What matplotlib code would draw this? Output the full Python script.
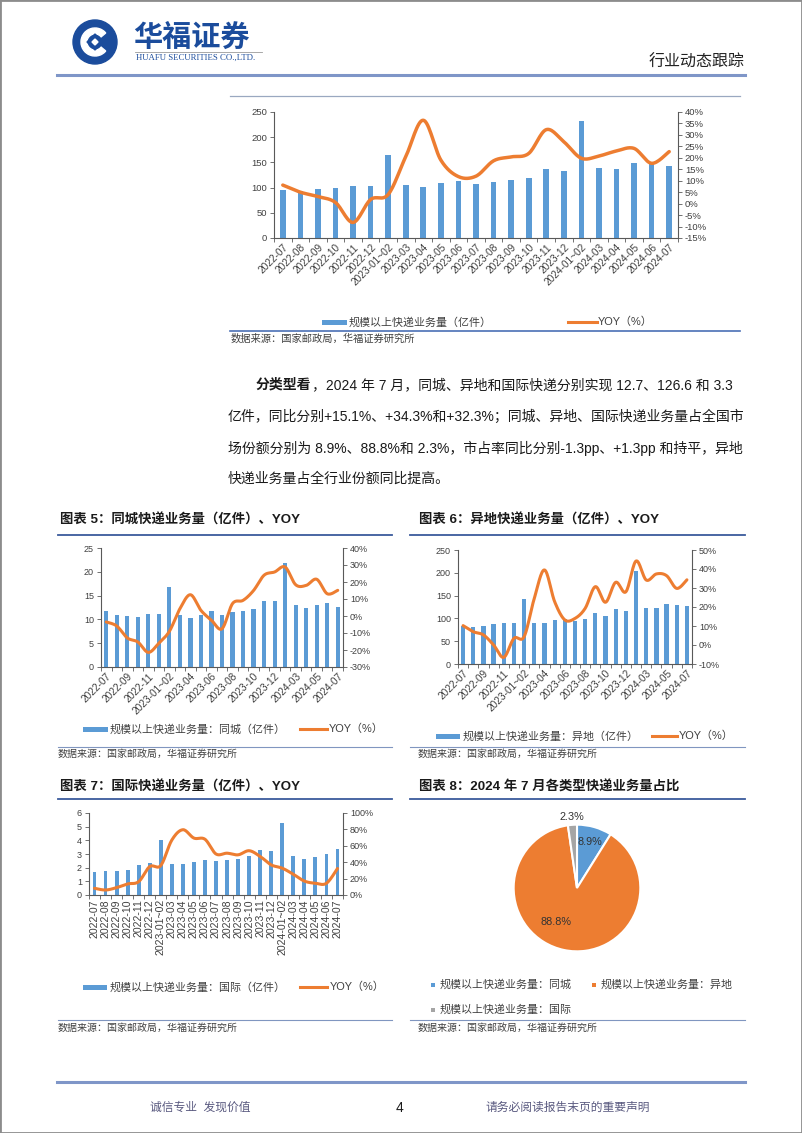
import numpy as np
import matplotlib

matplotlib.use("Agg")
import matplotlib.pyplot as plt
from matplotlib.lines import Line2D
from matplotlib.patches import Rectangle, Circle, Wedge, Polygon

plt.rcParams["font.family"] = ["Liberation Sans", "Noto Sans CJK SC", "DejaVu Sans"]

# ---- data -----------------------------------------------------------------
MONTHS = [
    "2022-07", "2022-08", "2022-09", "2022-10", "2022-11", "2022-12", "2023-01~02",
    "2023-03", "2023-04", "2023-05", "2023-06", "2023-07", "2023-08", "2023-09",
    "2023-10", "2023-11", "2023-12", "2024-01~02", "2024-03", "2024-04", "2024-05",
    "2024-06", "2024-07",
]
TOTAL_VOL = [96, 94, 97, 99, 103, 104, 164, 105, 102, 110, 114, 108, 111, 116,
             120, 136, 132, 233, 139, 137, 148, 146, 143]
TOTAL_YOY = [8.1, 5.0, 3.1, 0.5, -8.2, 1.8, 4.0, 20.5, 36.4, 19.0, 11.8, 12.0, 18.7,
             20.4, 21.9, 32.3, 27.0, 19.8, 20.8, 23.0, 24.1, 17.6, 22.7]

INTRA_VOL = [11.7, 10.9, 10.7, 10.4, 11.2, 11.2, 16.9, 11.0, 10.3, 10.9, 11.7, 10.9,
             11.6, 11.7, 12.1, 13.9, 13.9, 21.8, 13.1, 12.3, 13.1, 13.4, 12.7]
INTRA_YOY = [-3.5, -5.9, -12.9, -15.3, -21.4, -16.0, -9.0, 4.3, 12.5, 3.3, -2.5, -7.5,
             7.3, 9.2, 15.0, 24.0, 25.9, 28.8, 18.4, 18.0, 21.6, 13.1, 15.1]

INTER_VOL = [84, 82, 84, 87, 91, 91, 143, 91, 90, 96, 99, 95, 98, 111, 105, 120, 116,
             205, 123, 123, 132, 130, 127]
INTER_YOY = [10.2, 7.0, 5.3, 0.0, -6.5, 3.5, 4.4, 24.6, 39.5, 22.8, 13.2, 14.0, 19.3,
             30.7, 22.5, 33.0, 28.0, 44.2, 34.2, 37.4, 36.5, 29.8, 34.3]

INTL_VOL = [1.67, 1.72, 1.79, 1.84, 2.20, 2.33, 4.04, 2.28, 2.25, 2.45, 2.57, 2.50,
            2.57, 2.67, 2.84, 3.28, 3.19, 5.30, 2.87, 2.60, 2.79, 2.99, 3.33]
INTL_YOY = [8.2, 6.1, 9.0, 13.5, 16.3, 34.7, 36.0, 67.0, 79.6, 69.4, 68.0, 50.0, 51.0,
            49.0, 54.0, 47.0, 36.7, 32.7, 25.3, 17.0, 14.3, 14.3, 32.3]

SHARE_NAMES = ["规模以上快递业务量：同城", "规模以上快递业务量：异地", "规模以上快递业务量：国际"]
SHARE_VALUES = [8.9, 88.8, 2.3]

PARA = [
    "亿件，同比分别+15.1%、+34.3%和+32.3%；同城、异地、国际快递业务量占全国市",
    "场份额分别为 8.9%、88.8%和 2.3%，市占率同比分别-1.3pp、+1.3pp 和持平，异地",
    "快递业务量占全行业份额同比提高。",
]

BLUE = "#5B9BD5"
ORANGE = "#ED7D31"
GREY = "#A5A5A5"
AXC = "#595959"
TXT = "#404040"
NAVY = "#3A5A9C"
SOURCE = "数据来源：国家邮政局，华福证券研究所"

W, H = 802, 1133
fig = plt.figure(figsize=(W / 100, H / 100), dpi=100)


def fx(x):
    return x / W


def fy(y):
    return 1 - y / H


def box(x0, y0, x1, y1):
    return [x0 / W, 1 - y1 / H, (x1 - x0) / W, (y1 - y0) / H]


def text(x, y, s, **kw):
    kw.setdefault("va", "center")
    kw.setdefault("color", "#1a1a1a")
    fig.text(fx(x), fy(y), s, **kw)


def hline(x0, x1, y, color, lw=1.0):
    fig.add_artist(Line2D([fx(x0), fx(x1)], [fy(y), fy(y)], color=color, lw=lw))


def key_bar(x0, x1, y, color, h=5):
    fig.add_artist(Rectangle((fx(x0), fy(y + h / 2)), (x1 - x0) / W, h / H, color=color, lw=0))


def smooth(x, y, k=16):
    # Catmull-Rom path through the points, like Excel's smoothed line
    p = np.column_stack([x, y]).astype(float)
    p = np.vstack([p[0], p, p[-1]])
    t = np.linspace(0, 1, k, endpoint=False)[:, None]
    out = []
    for i in range(1, len(p) - 2):
        p0, p1, p2, p3 = p[i - 1], p[i], p[i + 1], p[i + 2]
        out.append(0.5 * (2 * p1 + (p2 - p0) * t + (2 * p0 - 5 * p1 + 4 * p2 - p3) * t ** 2
                          + (3 * p1 - p0 - 3 * p2 + p3) * t ** 3))
    out.append(p[-2][None])
    pts = np.vstack(out)
    return pts[:, 0], pts[:, 1]


def combo(px, vols, yoy, ylim, ystep, y2lim, y2step, every=1, rot=45, bw=0.35, lw=2.2,
          fs=6.5, xfs=7.0):
    ax = fig.add_axes(box(*px))
    x = np.arange(len(MONTHS))
    ax.bar(x, vols, width=bw, color=BLUE, zorder=2)
    ax.set_xlim(-0.5, len(MONTHS) - 0.5)
    ax.set_ylim(*ylim)
    ax.set_yticks(np.arange(ylim[0], ylim[1] + ystep * 0.01, ystep))
    ax.set_xticks(x[::every])
    if rot == 90:
        ax.set_xticklabels(MONTHS[::every], rotation=90, ha="center", va="top", fontsize=xfs)
    else:
        ax.set_xticklabels(MONTHS[::every], rotation=rot, ha="right", va="top",
                           rotation_mode="anchor", fontsize=xfs)
    ax.set_xticks(np.arange(-0.5, len(MONTHS)), minor=True)
    ax.tick_params(axis="x", which="major", length=0, pad=3, colors=TXT)
    ax.tick_params(axis="x", which="minor", length=3, width=0.6, color=AXC)
    ax.tick_params(axis="y", length=3, width=0.6, color=AXC, labelsize=fs, labelcolor=TXT, pad=2)
    for s in ("top", "right"):
        ax.spines[s].set_visible(False)
    for s in ("left", "bottom"):
        ax.spines[s].set_color(AXC)
        ax.spines[s].set_linewidth(0.8)

    ax2 = ax.twinx()
    sx, sy = smooth(x, yoy)
    ax2.plot(sx, sy, color=ORANGE, lw=lw, solid_capstyle="round", solid_joinstyle="round", zorder=3)
    ax2.set_ylim(*y2lim)
    ticks = np.arange(y2lim[0], y2lim[1] + y2step * 0.01, y2step)
    ax2.set_yticks(ticks)
    ax2.set_yticklabels([f"{v:.0f}%" for v in ticks])
    ax2.tick_params(axis="y", length=3, width=0.6, color=AXC, labelsize=fs, labelcolor=TXT, pad=2)
    for s in ("top", "left", "bottom"):
        ax2.spines[s].set_visible(False)
    ax2.spines["right"].set_color(AXC)
    ax2.spines["right"].set_linewidth(0.8)
    return ax, ax2


# ---- page furniture ---------------------------------------------------------
fig.add_artist(Rectangle((0, 0), 1, 1, fill=False, ec="#8c8c8c", lw=2))

lax = fig.add_axes(box(72, 19, 118, 65))
lax.set_xlim(0, 46)
lax.set_ylim(0, 46)
lax.set_aspect("equal")
lax.axis("off")
lax.add_patch(Circle((23, 23), 22, color="#1B4C9C"))
lax.add_patch(Wedge((23, 23), 14, 40, 320, width=6, color="white"))
lax.add_patch(Polygon([[23, 31], [31, 23], [23, 15], [15, 23]], color="#1B4C9C"))
lax.add_patch(Polygon([[23, 26], [26, 23], [23, 20], [20, 23]], color="white"))

text(133, 37, "华福证券", fontsize=21, fontweight="bold", color="#1B4C9C",
     family=["Noto Sans CJK SC"])
hline(135, 262, 52, "#9a9a9a", 0.6)
text(136, 58, "HUAFU SECURITIES CO.,LTD.", fontsize=6.3, color="#1B4C9C",
     family=["Liberation Serif"])
text(745, 62, "行业动态跟踪", fontsize=11.5, ha="right", color="#222222")
hline(57, 745, 75, "#7F96C8", 2.2)

hline(57, 745, 1082, "#7F96C8", 2.2)
text(150, 1108, "诚信专业  发现价值", fontsize=8.5, color="#5a5a80")
text(400, 1108, "4", fontsize=10, ha="center", color="#1a1a1a")
text(486, 1108, "请务必阅读报告末页的重要声明", fontsize=8.5, color="#5a5a80")

# ---- top chart: total volume ----------------------------------------------
hline(230, 740, 96, "#9aa8c0", 0.9)
combo((274, 112, 678, 238), TOTAL_VOL, TOTAL_YOY, (0, 250), 50, (-15, 40), 5,
      every=1, rot=45, bw=0.32, lw=2.5, fs=6.8, xfs=7.3)
key_bar(322, 347, 322, BLUE)
text(349, 322, "规模以上快递业务量（亿件）", fontsize=7.9, color=TXT)
hline(568, 597, 322, ORANGE, 2.2)
text(598, 322, "YOY（%）", fontsize=7.9, color=TXT)
hline(230, 740, 331, "#4A6FB5", 1.2)
text(231, 339, SOURCE, fontsize=7.4, color=TXT)

# ---- paragraph ---------------------------------------------------------------
text(256, 385, "分类型看", fontsize=10.0, fontweight="bold")
text(312, 385, "，2024 年 7 月，同城、异地和国际快递分别实现 12.7、126.6 和 3.3", fontsize=10.0)
for i, line in enumerate(PARA):
    text(228, 417 + 31 * i, line, fontsize=10.0)

# ---- chart 5 / 6 -----------------------------------------------------------
text(60, 520, "图表 5：同城快递业务量（亿件）、YOY", fontsize=9.6, fontweight="bold")
hline(58, 392, 535, NAVY, 1.3)
combo((101, 548, 343, 667), INTRA_VOL, INTRA_YOY, (0, 25), 5, (-30, 40), 10,
      every=2, rot=45, bw=0.4, lw=2.2, xfs=7.3)
key_bar(83, 108, 729, BLUE)
text(110, 729, "规模以上快递业务量：同城（亿件）", fontsize=7.9, color=TXT)
hline(300, 327, 729, ORANGE, 2.2)
text(329, 729, "YOY（%）", fontsize=7.9, color=TXT)
hline(58, 392, 747, "#8096c0", 0.8)
text(58, 754, SOURCE, fontsize=7.2, color=TXT)

text(419, 520, "图表 6：异地快递业务量（亿件）、YOY", fontsize=9.6, fontweight="bold")
hline(410, 745, 535, NAVY, 1.3)
combo((458, 550, 692, 664), INTER_VOL, INTER_YOY, (0, 250), 50, (-10, 50), 10,
      every=2, rot=45, bw=0.42, lw=2.2, xfs=7.3)
key_bar(436, 460, 736, BLUE)
text(463, 736, "规模以上快递业务量：异地（亿件）", fontsize=7.9, color=TXT)
hline(652, 677, 736, ORANGE, 2.2)
text(679, 736, "YOY（%）", fontsize=7.9, color=TXT)
hline(410, 745, 747, "#8096c0", 0.8)
text(418, 754, SOURCE, fontsize=7.2, color=TXT)

# ---- chart 7 / 8 -----------------------------------------------------------
text(60, 787, "图表 7：国际快递业务量（亿件）、YOY", fontsize=9.6, fontweight="bold")
hline(58, 392, 799, NAVY, 1.3)
combo((89, 813, 343, 895), INTL_VOL, INTL_YOY, (0, 6), 1, (0, 100), 20,
      every=1, rot=90, bw=0.35, lw=2.2, xfs=7.6)
key_bar(83, 107, 987, BLUE)
text(110, 987, "规模以上快递业务量：国际（亿件）", fontsize=7.9, color=TXT)
hline(300, 327, 987, ORANGE, 2.2)
text(330, 987, "YOY（%）", fontsize=7.9, color=TXT)
hline(58, 392, 1020, "#8096c0", 0.8)
text(58, 1028, SOURCE, fontsize=7.2, color=TXT)

text(419, 787, "图表 8：2024 年 7 月各类型快递业务量占比", fontsize=9.6, fontweight="bold")
hline(410, 745, 799, NAVY, 1.3)
pax = fig.add_axes(box(577 - 76, 888 - 76, 577 + 76, 888 + 76))
wedges, _ = pax.pie(SHARE_VALUES, colors=[BLUE, ORANGE, GREY], startangle=90,
                    counterclock=False, radius=1,
                    wedgeprops=dict(edgecolor="white", linewidth=1.5))
pax.set_xlim(-1.2, 1.2)
pax.set_ylim(-1.2, 1.2)
pax.set_aspect("equal")
pax.axis("off")
for w, v, r in zip(wedges, SHARE_VALUES, [0.76, 0.64, 1.13]):
    ang = np.deg2rad((w.theta1 + w.theta2) / 2)
    if v > 50:
        ang = np.deg2rad(-122)
    pax.text(r * np.cos(ang), r * np.sin(ang), f"{v:.1f}%", ha="center", va="center",
             fontsize=7.8, color="#333333")
for (mx, my), name, c in zip([(433, 985), (594, 985), (433, 1010)], SHARE_NAMES,
                             [BLUE, ORANGE, GREY]):
    fig.add_artist(Rectangle((fx(mx - 2), fy(my + 2)), 4 / W, 4 / H, color=c, lw=0))
    text(mx + 7, my, name, fontsize=7.9, color=TXT)
hline(410, 745, 1020, "#8096c0", 0.8)
text(418, 1028, SOURCE, fontsize=7.2, color=TXT)

fig.savefig("out.png", dpi=100)
